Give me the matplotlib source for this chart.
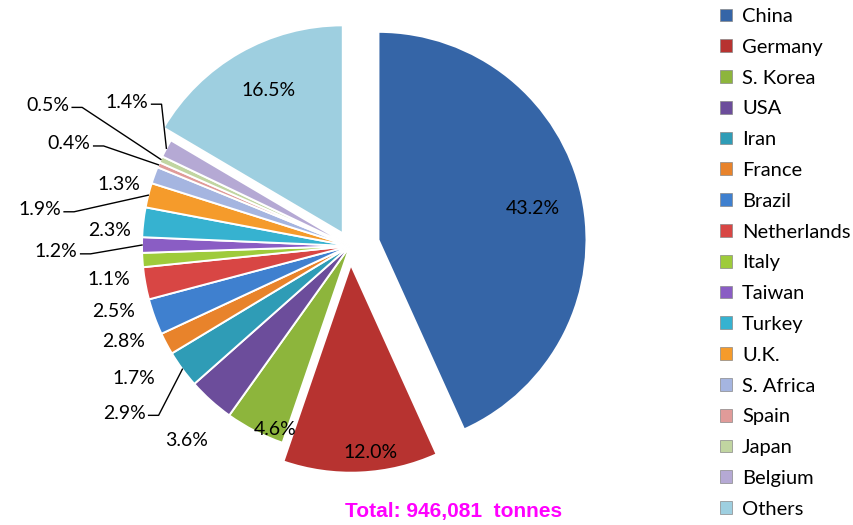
import numpy as np
import matplotlib
matplotlib.use("Agg")
import matplotlib.pyplot as plt
from matplotlib.patches import Patch

# ---- data ----
countries = ['China', 'Germany', 'S. Korea', 'USA', 'Iran', 'France', 'Brazil',
             'Netherlands', 'Italy', 'Taiwan', 'Turkey', 'U.K.', 'S. Africa',
             'Spain', 'Japan', 'Belgium', 'Others']
shares = [43.2, 12.0, 4.6, 3.6, 2.9, 1.7, 2.8, 2.5, 1.1, 1.2, 2.3, 1.9, 1.3,
          0.4, 0.5, 1.4, 16.5]
title = '2011'
total_text = 'Total: 946,081  tonnes'

# ---- styles ----
colors = ['#3565a7', '#b73330', '#8db53c', '#6c4d9b', '#2f9cb6', '#e8832b',
          '#3f80cf', '#d84644', '#9ecb3b', '#8a5dc4', '#36b2d0', '#f59b2b',
          '#a5b5e0', '#e09b99', '#c1d5a1', '#b5a9d4', '#9ecfe0']
explode = [0.14, 0.09, 0, 0, 0, 0, 0, 0, 0, 0, 0, 0, 0, 0, 0, 0, 0.07]

# label placement: (radius fraction, angle shift deg clockwise, leader?)
placement = [(0.90, 0.5, False), (1.0, -3, False), (0.955, -5, False),
             (1.22, -2, False), (1.27, -3, True), (1.22, -3.5, False),
             (1.18, -3, False), (1.18, -5, False), (1.17, -4, False),
             (1.31, -1.5, True), (1.16, -3, False), (1.40, -7, True),
             (1.15, -5, False), (1.34, -1.5, True), (1.51, 2, True),
             (1.19, 7.5, True), (0.845, 2, False)]

plt.rcParams['font.family'] = ['Lato', 'DejaVu Sans']

W, H = 854, 525
fig = plt.figure(figsize=(W / 100, H / 100), dpi=100)
ax = fig.add_axes([0, 0, 1, 1])
ax.set_xlim(0, W)
ax.set_ylim(0, H)
ax.set_aspect('equal')
ax.axis('off')

cx, cy, R = 350, H - 246, 208

# pie explode is in data units, so scale by radius
wedges, _ = ax.pie(shares, colors=colors, explode=[e * R for e in explode],
                   startangle=90, counterclock=False, center=(cx, cy), radius=R,
                   wedgeprops=dict(edgecolor='white', linewidth=1.4))
ax.set_xlim(0, W)
ax.set_ylim(0, H)

vals = np.array(shares)
cum = np.cumsum(vals) - vals / 2
mid_cw = 360 * cum / vals.sum()   # clockwise from top

for i, v in enumerate(shares):
    rf, dth, leader = placement[i]
    a = np.radians(mid_cw[i] + dth)
    tx = cx + rf * R * np.sin(a)
    ty = cy + rf * R * np.cos(a)
    txt = f'{v:.1f}%'
    if not leader:
        ax.text(tx, ty, txt, ha='center', va='center', fontsize=14, color='black')
    else:
        ax.text(tx, ty, txt, ha='right', va='center', fontsize=14, color='black')
        am = np.radians(mid_cw[i])
        px = cx + 1.0 * R * np.sin(am)
        py = cy + 1.0 * R * np.cos(am)
        ex = tx + 13
        ax.plot([tx + 3, ex, px], [ty - 2, ty - 2, py], color='black', lw=1.0)

handles = [Patch(facecolor=c, edgecolor='#888888', linewidth=0.5) for c in colors]
fig.legend(handles, countries, loc='upper left',
           bbox_to_anchor=(720 / W, 1 - 8 / H), frameon=False, fontsize=14.5,
           handlelength=0.6, handleheight=0.6, handletextpad=0.5,
           labelspacing=0.685, borderaxespad=0, borderpad=0)

fig.text(411 / W, 1 + 0.5 / H, title, ha='center', va='baseline',
         fontsize=20, fontweight='bold')
fig.text(454 / W, (H - 512) / H, total_text, ha='center', va='center',
         color='#ff00ff', fontsize=15, fontweight='bold',
         family=['Liberation Sans', 'DejaVu Sans'])

fig.savefig('out.png', dpi=100)
